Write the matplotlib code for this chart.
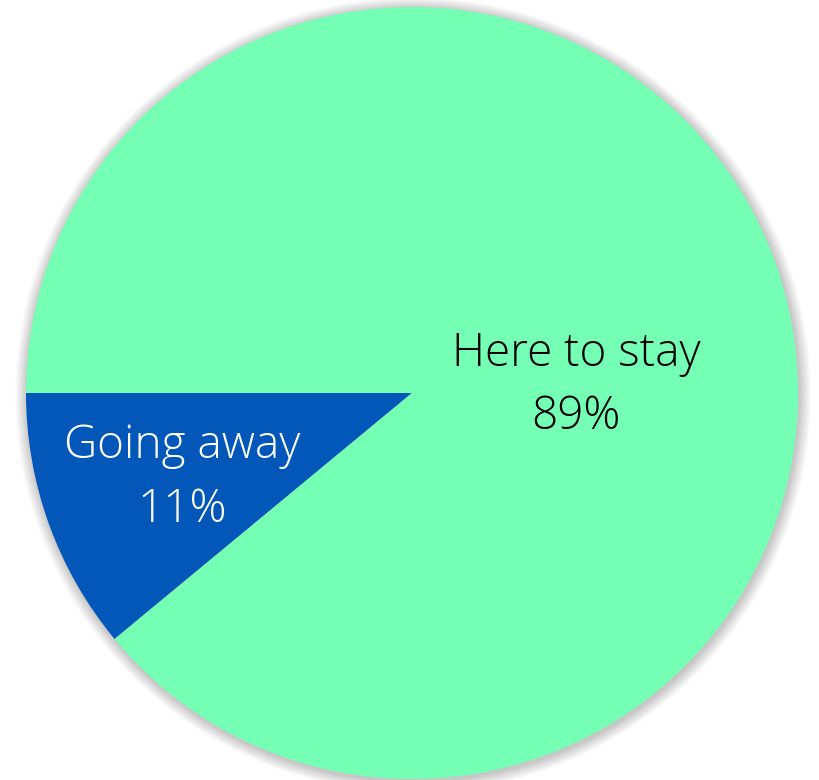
import matplotlib
matplotlib.use("Agg")
import matplotlib.pyplot as plt
from matplotlib.patches import Circle

labels = ["Going away", "Here to stay"]
shares = [11, 89]
colors = ["#0257B8", "#74FFB4"]
text_colors = ["white", "black"]

W, H = 820, 780
fig = plt.figure(figsize=(W / 100, H / 100), dpi=100)
ax = fig.add_axes([0, 0, 1, 1])

# pie centre and radius in pixels
cx, cy, r = 412, 387, 386

# soft shadow around the disc
for i in range(14):
    ax.add_patch(Circle((0.003, -0.005), 1.0 + 0.0022 * (14 - i), color="#000000",
                        alpha=0.016, lw=0, zorder=0))

ax.pie(shares, colors=colors, startangle=180, counterclock=True, radius=1.0,
       wedgeprops=dict(linewidth=0), frame=False)
ax.set_aspect("auto")
ax.set_xlim(-cx / r, (W - cx) / r)
ax.set_ylim(-cy / r, (H - cy) / r)
ax.axis("off")

label_pos = [(-0.596, -0.22), (0.425, 0.02)]
for lab, val, (x, y), tc in zip(labels, shares, label_pos, text_colors):
    ax.text(x, y, f"{lab}\n{val}%", ha="center", va="center", color=tc,
            fontsize=33, family="Open Sans", fontweight="light", linespacing=1.5)

fig.savefig("out.png", dpi=100)
